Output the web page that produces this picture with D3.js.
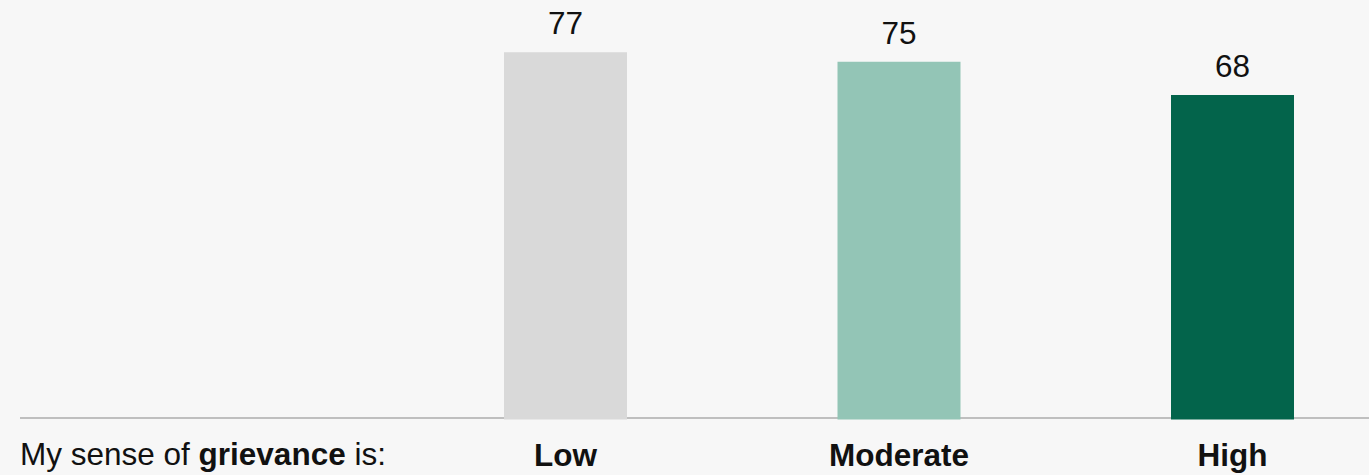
<!DOCTYPE html>
<html>
<head>
<meta charset="utf-8">
<script src="https://cdn.jsdelivr.net/npm/d3@7"></script>
<style>
  html, body { margin: 0; padding: 0; background: #f7f7f7; }
  svg { display: block; font-family: Arial, "Liberation Sans", sans-serif; }
</style>
</head>
<body>
<script>
const categories = ['Low', 'Moderate', 'High'];
const values = [77, 75, 68];
const colors = ['#d9d9d9', '#93c5b6', '#03644b'];

const width = 1369;
const height = 475;
const baseY = 418;
const fontSize = 31.5;

const svg = d3.select('body').append('svg')
  .attr('width', width)
  .attr('height', height);

/** x positions of bar centres */
const x = d3.scalePoint()
  .domain(categories)
  .range([565.5, 1232.5]);

const barWidth = 123;

const y = d3.scaleLinear()
  .domain([0, 88])
  .range([baseY, 0]);

// baseline
svg.append('line')
  .attr('x1', 20)
  .attr('x2', width)
  .attr('y1', baseY)
  .attr('y2', baseY)
  .attr('stroke', '#bfbfbf')
  .attr('stroke-width', 2);

const bars = svg.append('g')
  .selectAll('g')
  .data(categories)
  .enter().append('g');

bars.append('rect')
  .attr('x', d => x(d) - barWidth / 2)
  .attr('y', (d, i) => y(values[i]))
  .attr('width', barWidth)
  .attr('height', (d, i) => y(0) - y(values[i]) + 1.5)
  .attr('fill', (d, i) => colors[i]);

bars.append('text')
  .text((d, i) => values[i])
  .attr('x', d => x(d))
  .attr('y', (d, i) => y(values[i]) - 18)
  .attr('text-anchor', 'middle')
  .attr('font-size', fontSize)
  .attr('fill', '#111');

bars.append('text')
  .text(d => d)
  .attr('x', d => x(d))
  .attr('y', 466)
  .attr('text-anchor', 'middle')
  .attr('font-size', fontSize)
  .attr('font-weight', 'bold')
  .attr('fill', '#111');

// left label
const lab = svg.append('text')
  .attr('x', 20)
  .attr('y', 465)
  .attr('font-size', fontSize)
  .attr('fill', '#111');
lab.append('tspan').text('My sense of ');
lab.append('tspan').attr('font-weight', 'bold').text('grievance');
lab.append('tspan').text(' is:');
</script>
</body>
</html>
